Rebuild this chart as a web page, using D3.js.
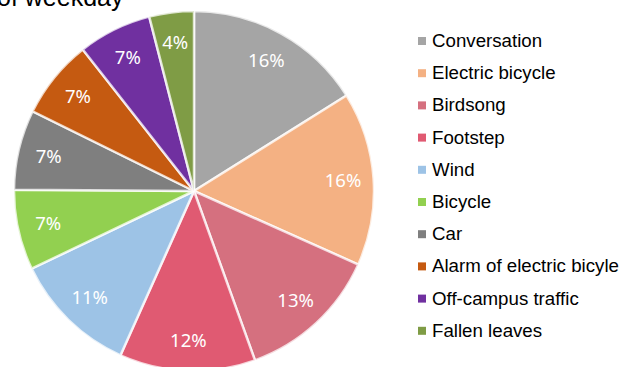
<!DOCTYPE html>
<html>
<head>
<meta charset="utf-8">
<script src="https://cdn.jsdelivr.net/npm/d3@7"></script>
<style>
  body { margin: 0; background: #fff; }
  svg { display: block; }
</style>
</head>
<body>
<div id="pie"></div>
<script>
// data (share of each sound source, %)
var categories = ["Conversation", "Electric bicycle", "Birdsong", "Footstep", "Wind",
                  "Bicycle", "Car", "Alarm of electric bicyle", "Off-campus traffic", "Fallen leaves"];
var values = [16.1, 15.6, 12.8, 12.2, 11.2, 7.2, 7.2, 7.1, 6.6, 4.0];
var colors = ["#a5a5a5", "#f4b183", "#d5707f", "#e05a72", "#9dc3e6",
              "#92d050", "#7f7f7f", "#c55a11", "#7030a0", "#7f9c45"];
var titleText = "of weekday";

var width = 622, height = 367;
var cx = 194, cy = 191, radius = 180;

var svg = d3.select("#pie")
    .append("svg")
    .attr("width", width)
    .attr("height", height);

// title, cut off at the top in the original
svg.append("text")
    .attr("x", -3)
    .attr("y", 6)
    .attr("font-family", "Liberation Sans, Arial, sans-serif")
    .attr("font-size", "25px")
    .attr("fill", "#000")
    .text(titleText);

var data = categories.map(function (c, i) { return { name: c, value: values[i], color: colors[i] }; });

var pie = d3.pie()
    .sort(null)
    .value(function (d) { return d.value; });

var arc = d3.arc()
    .innerRadius(0)
    .outerRadius(radius);

var labelArc = d3.arc()
    .innerRadius(radius * 0.83)
    .outerRadius(radius * 0.83);

var g = svg.append("g")
    .attr("transform", "translate(" + cx + "," + cy + ")");

var slices = g.selectAll(".slice")
    .data(pie(data))
    .enter().append("g")
    .attr("class", "slice");

slices.append("path")
    .attr("d", arc)
    .attr("fill", function (d) { return d.data.color; })
    .attr("stroke", "rgba(255,255,255,0.75)")
    .attr("stroke-width", 2.5);

slices.append("text")
    .attr("transform", function (d) { return "translate(" + labelArc.centroid(d) + ")"; })
    .attr("dy", "0.35em")
    .attr("text-anchor", "middle")
    .attr("font-family", "Noto Sans, Open Sans, sans-serif")
    .attr("font-size", "18.5px")
    .attr("fill", "#fff")
    .text(function (d) { return Math.round(d.data.value) + "%"; });

// legend
var legend = svg.selectAll(".legend")
    .data(data)
    .enter().append("g")
    .attr("class", "legend")
    .attr("transform", function (d, i) { return "translate(418," + (47 + i * 32.2) + ")"; });

legend.append("rect")
    .attr("x", 0)
    .attr("y", -10)
    .attr("width", 8)
    .attr("height", 8)
    .attr("fill", function (d) { return d.color; });

legend.append("text")
    .attr("x", 14)
    .attr("y", 0)
    .attr("font-family", "Liberation Sans, Arial, sans-serif")
    .attr("font-size", "18.7px")
    .attr("fill", "#000")
    .text(function (d) { return d.name; });
</script>
</body>
</html>
